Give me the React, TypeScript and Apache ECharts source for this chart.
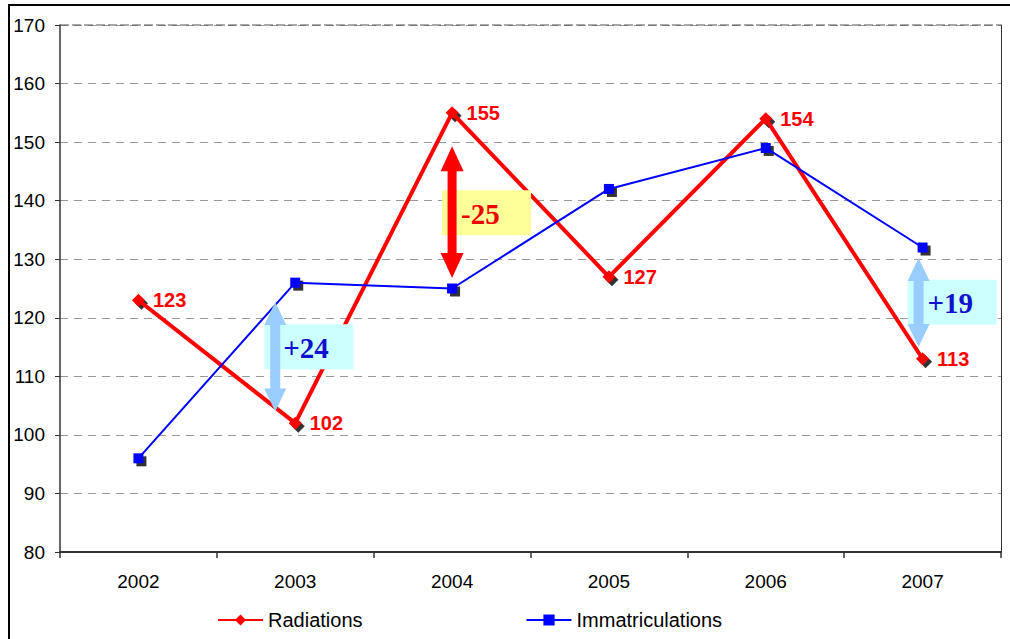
import React, { useEffect, useRef } from "react";
import * as echarts from "echarts";

const years = ["2002", "2003", "2004", "2005", "2006", "2007"];
const radiations = [123, 102, 155, 127, 154, 113];
const immatriculations = [96, 126, 125, 142, 149, 132];
const yTicks = { min: 80, max: 170, interval: 10 };

type Ann = {
  cat: string;
  from: number;
  to: number;
  dx: number;
  arrowColor: string;
  sw: number;
  hw: number;
  hh: number;
  boxL: number;
  boxW: number;
  boxTop: number;
  boxBottom: number;
  bg: string;
  text: string;
  textColor: string;
  textX: number;
};

const annotations: Ann[] = [
  { cat: "2003", from: 122.7, to: 104.0, dx: -20, arrowColor: "#99ccff", sw: 5, hw: 11, hh: 23, boxL: -31, boxW: 89, boxTop: 118.9, boxBottom: 111.2, bg: "#ccffff", text: "+24", textColor: "#1111cc", textX: -12 },
  { cat: "2004", from: 149.3, to: 126.8, dx: 0, arrowColor: "#ff0000", sw: 4.5, hw: 11.5, hh: 25, boxL: -10, boxW: 89, boxTop: 141.8, boxBottom: 134.1, bg: "#ffff99", text: "-25", textColor: "#ee0000", textX: 9 },
  { cat: "2007", from: 130.2, to: 115.0, dx: -4, arrowColor: "#99ccff", sw: 5, hw: 11, hh: 23, boxL: -15, boxW: 89, boxTop: 126.5, boxBottom: 118.8, bg: "#ccffff", text: "+19", textColor: "#1111cc", textX: 5 },
];

export default function App() {
  const ref = useRef<HTMLDivElement>(null);
  useEffect(() => {
    if (!ref.current) return;
    const chart = echarts.init(ref.current, null, { renderer: "svg" });
    const font = "'Liberation Sans', Arial, sans-serif";
    const yAxisBase = {
      type: "value" as const,
      min: yTicks.min,
      max: yTicks.max,
      interval: yTicks.interval,
    };
    chart.setOption({
      animation: false,
      backgroundColor: "#ffffff",
      textStyle: { fontFamily: font },
      grid: { left: 60, top: 25, right: 9, bottom: 87, containLabel: false },
      legend: {
        data: ["Radiations", "Immatriculations"],
        left: 212,
        top: 605,
        itemWidth: 45,
        itemHeight: 14,
        itemGap: 163,
        textStyle: { fontSize: 20, color: "#000", fontFamily: font },
      },
      xAxis: {
        type: "category",
        data: years,
        boundaryGap: true,
        axisLine: { show: true, lineStyle: { color: "#333", width: 2 } },
        axisTick: { show: true, length: 6, inside: false, lineStyle: { color: "#333", width: 1.5 } },
        axisLabel: { fontSize: 19, color: "#000", margin: 20, fontFamily: font },
        splitLine: { show: false },
      },
      yAxis: [
        {
          ...yAxisBase,
          axisLine: { show: true, lineStyle: { color: "#333", width: 1.5 } },
          axisTick: { show: true, length: 5, lineStyle: { color: "#333" } },
          axisLabel: { fontSize: 19, color: "#000", margin: 15, fontFamily: font },
          splitLine: { show: true, lineStyle: { color: "#999", type: [8, 6], width: 1 } },
        },
        {
          ...yAxisBase,
          position: "right",
          axisLine: { show: true, lineStyle: { color: "#333", width: 1 } },
          axisTick: { show: false },
          axisLabel: { show: false },
          splitLine: { show: false },
        },
      ],
      series: [
        {
          name: "shadowR",
          type: "scatter",
          data: radiations,
          symbol: "diamond",
          symbolSize: 13,
          symbolOffset: [3, 3],
          itemStyle: { color: "#000" },
          z: 1,
          silent: true,
        },
        {
          name: "shadowI",
          type: "scatter",
          data: immatriculations,
          symbol: "rect",
          symbolSize: 10,
          symbolOffset: [3, 3],
          itemStyle: { color: "#000" },
          z: 1,
          silent: true,
        },
        {
          name: "Radiations",
          type: "line",
          data: radiations,
          symbol: "diamond",
          symbolSize: 13,
          showAllSymbol: true,
          lineStyle: { color: "#ff0000", width: 4 },
          itemStyle: { color: "#ff0000" },
          label: {
            show: true,
            position: "right",
            distance: 8,
            color: "#ff0000",
            fontSize: 20,
            fontWeight: "bold",
            fontFamily: font,
          },
          z: 3,
        },
        {
          name: "Immatriculations",
          type: "line",
          data: immatriculations,
          symbol: "rect",
          symbolSize: 10,
          showAllSymbol: true,
          lineStyle: { color: "#0000ff", width: 2 },
          itemStyle: { color: "#0000ff" },
          z: 4,
        },
      ],
    });

    const px = (cat: string, v: number) =>
      chart.convertToPixel({ xAxisIndex: 0, yAxisIndex: 0 }, [cat, v]) as number[];

    const graphics: any[] = [];
    graphics.push({
      type: "rect",
      shape: { x: 9, y: 5, width: 1100, height: 1000 },
      style: { fill: "none", stroke: "#000", lineWidth: 2 },
      z: 0,
      silent: true,
    });
    const topLeft = px(years[0], yTicks.max);
    graphics.push({
      type: "line",
      shape: { x1: 60, y1: topLeft[1], x2: 1001, y2: topLeft[1] },
      style: { stroke: "#555", lineWidth: 1.2, lineDash: [9, 3] },
      z: 5,
      silent: true,
    });
    annotations.forEach((a) => {
      const c = px(a.cat, a.from);
      const cx = c[0] + a.dx;
      const top = c[1];
      const bottom = px(a.cat, a.to)[1];
      const bt = px(a.cat, a.boxTop)[1];
      const bb = px(a.cat, a.boxBottom)[1];
      graphics.push({
        type: "rect",
        shape: { x: c[0] + a.boxL, y: bt, width: a.boxW, height: bb - bt },
        style: { fill: a.bg },
        z: 6,
        silent: true,
      });
      const pts = [
        [cx, top],
        [cx + a.hw, top + a.hh],
        [cx + a.sw, top + a.hh],
        [cx + a.sw, bottom - a.hh],
        [cx + a.hw, bottom - a.hh],
        [cx, bottom],
        [cx - a.hw, bottom - a.hh],
        [cx - a.sw, bottom - a.hh],
        [cx - a.sw, top + a.hh],
        [cx - a.hw, top + a.hh],
      ];
      graphics.push({
        type: "polygon",
        shape: { points: pts },
        style: { fill: a.arrowColor },
        z: 7,
        silent: true,
      });
      graphics.push({
        type: "text",
        x: c[0] + a.textX,
        y: (bt + bb) / 2 + 1,
        style: {
          text: a.text,
          fill: a.textColor,
          font: "bold 29px 'Liberation Serif', 'Times New Roman', serif",
          verticalAlign: "middle",
          align: "left",
        },
        z: 8,
        silent: true,
      });
    });
    chart.setOption({ graphic: graphics });

    return () => chart.dispose();
  }, []);
  return (
    <div
      ref={ref}
      style={{ position: "absolute", left: 0, top: 0, width: 1010, height: 639 }}
    />
  );
}
